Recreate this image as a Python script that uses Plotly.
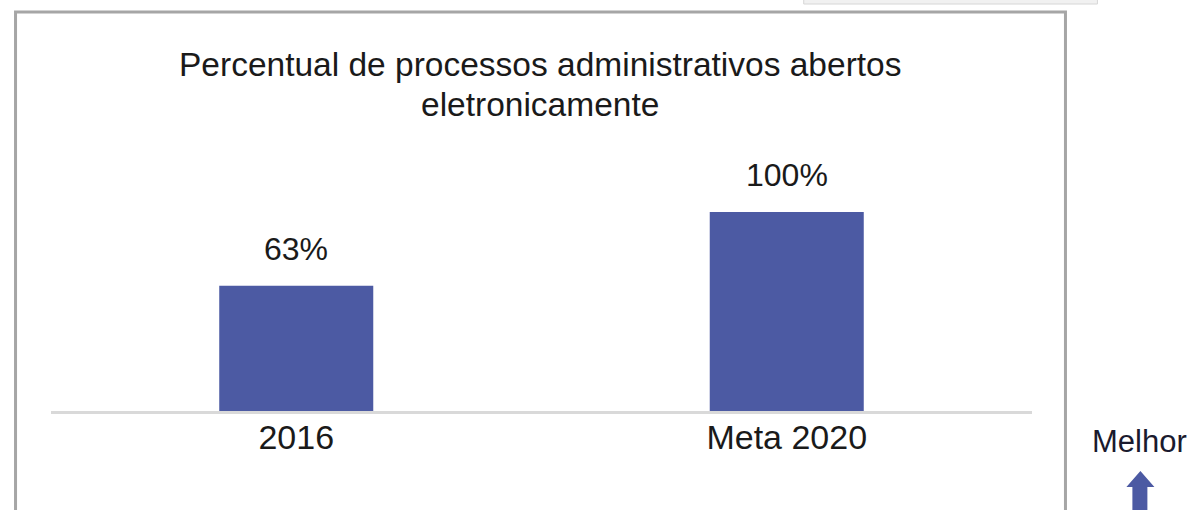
import plotly.graph_objects as go

W, H = 1191, 510

categories = ["2016", "Meta 2020"]
values = [63, 100]
value_labels = ["63%", "100%"]

title_lines = ["Percentual de processos administrativos abertos", "eletronicamente"]
better_text = "Melhor"

BAR_COLOR = "#4C5AA3"
FONT = "Liberation Sans, Arial, sans-serif"
INK = "#1a1a1a"

# plot area in pixels
L, R, T, B = 50.5, 1032.5, 212, 411
margin = dict(l=L, r=W - R, t=T, b=H - B, pad=0)


def px_x(x):
    return (x - L) / (R - L)


def px_y(y):
    return (B - y) / (B - T)


fig = go.Figure()
fig.add_trace(
    go.Bar(
        x=categories,
        y=values,
        marker=dict(color=BAR_COLOR, line=dict(width=0)),
        hoverinfo="skip",
    )
)

# value labels above the bars (category index as x)
annotations = [
    dict(x=i, y=v, text=t, xref="x", yref="y", showarrow=False,
         xanchor="center", yanchor="bottom", yshift=17,
         font=dict(size=32, color=INK, family=FONT))
    for i, (v, t) in enumerate(zip(values, value_labels))
]
for line, yc in zip(title_lines, [64, 104]):
    annotations.append(
        dict(x=px_x(540), y=px_y(yc), xref="paper", yref="paper", text=line,
             showarrow=False, xanchor="center", yanchor="middle",
             font=dict(size=33.5, color=INK, family=FONT))
    )
annotations.append(
    dict(x=px_x(1140), y=px_y(441), xref="paper", yref="paper", text=better_text,
         showarrow=False, xanchor="center", yanchor="middle",
         font=dict(size=31, color="#1a1a2e", family=FONT))
)

shapes = [
    # outer frame
    dict(type="rect", xref="paper", yref="paper",
         x0=px_x(15), x1=px_x(1066), y0=px_y(12), y1=px_y(530),
         line=dict(color="#a6a6a6", width=3), fillcolor="rgba(0,0,0,0)", layer="below"),
    # small box at the top
    dict(type="rect", xref="paper", yref="paper",
         x0=px_x(804), x1=px_x(1098), y0=px_y(-2), y1=px_y(4),
         line=dict(color="#d6d6d6", width=1), fillcolor="#f1f1f1"),
]

arrow_pts = [(1141, 471), (1155, 487), (1148, 487), (1148, 515),
             (1133, 515), (1133, 487), (1127, 487)]
path = "M " + " L ".join(f"{px_x(x):.5f},{px_y(y):.5f}" for x, y in arrow_pts) + " Z"
shapes.append(dict(type="path", xref="paper", yref="paper", path=path,
                   fillcolor=BAR_COLOR, line=dict(width=0)))

fig.update_layout(
    width=W,
    height=H,
    margin=margin,
    paper_bgcolor="white",
    plot_bgcolor="white",
    showlegend=False,
    bargap=0.686,
    font=dict(family=FONT, size=34, color=INK),
    xaxis=dict(
        range=[-0.5, 1.5],
        showline=True,
        linecolor="#d9d9d9",
        linewidth=3,
        ticks="",
        showgrid=False,
        tickfont=dict(size=34, color=INK),
        ticklabelstandoff=-6,
        fixedrange=True,
    ),
    yaxis=dict(range=[0, 100], visible=False, fixedrange=True),
    annotations=annotations,
    shapes=shapes,
)

fig.write_html("out.html", config=dict(displayModeBar=False),
               post_script="document.body.style.margin='0';")
